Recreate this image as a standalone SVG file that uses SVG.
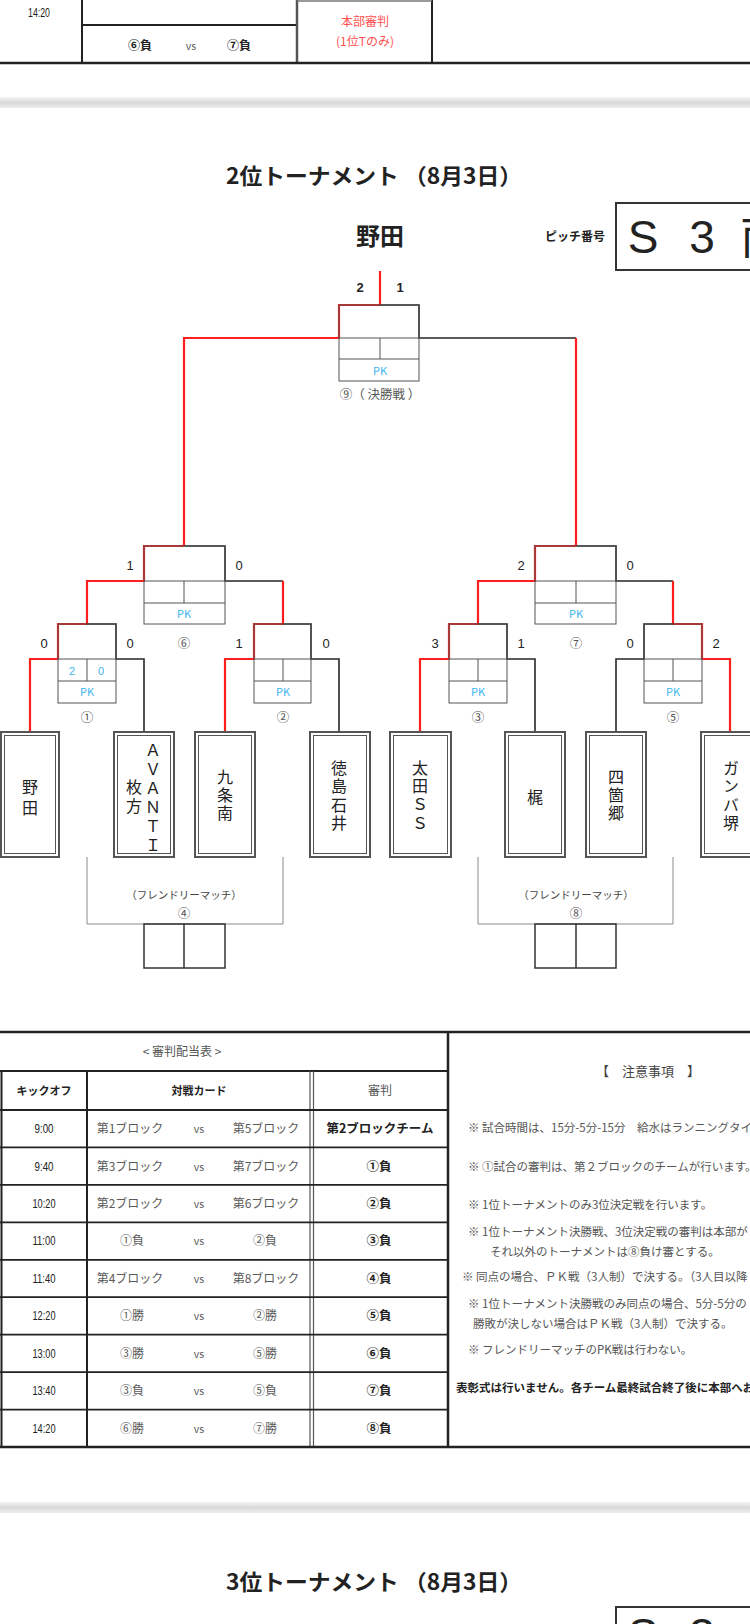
<svg xmlns="http://www.w3.org/2000/svg" width="750" height="1624" viewBox="0 0 750 1624">
<style>
text{font-family:"Noto Sans CJK JP","Noto Sans",sans-serif;fill:#222}
.num{font-family:"Liberation Sans","Noto Sans CJK JP",sans-serif}
.bk{fill:none;stroke:#262626;stroke-width:1.6}
.rd{fill:none;stroke:#ff1e1e;stroke-width:2.2}
.bx{fill:none;stroke:#555;stroke-width:1}
.fr{fill:none;stroke:#8a8a8a;stroke-width:1}
.pk{fill:#3ab4ee;font-size:11px;text-anchor:middle}
.sc{font-size:13px;text-anchor:middle;fill:#222}
.cn{font-size:12.5px;text-anchor:middle;fill:#555}
.tm{font-size:16px;fill:#222;writing-mode:vertical-rl;text-orientation:upright}
.to{fill:#fff;stroke:#555;stroke-width:2}
.ti{fill:none;stroke:#555;stroke-width:1}
.tl{stroke:#222;stroke-width:2}
.rl{stroke:#222;stroke-width:1.8}
.dl{stroke:#555;stroke-width:1.2}
.time{font-size:12.5px;text-anchor:middle;fill:#222}
.card{font-size:12px;text-anchor:middle;fill:#5a5a5a}
.vs{font-size:10.5px;text-anchor:middle;fill:#5a5a5a}
.ref{font-size:12.5px;text-anchor:middle;font-weight:700;fill:#222}
.note{font-size:11.5px;fill:#555}
</style>
<defs>
<linearGradient id="band" x1="0" y1="0" x2="0" y2="1">
<stop offset="0" stop-color="#f3f3f3"/>
<stop offset="0.5" stop-color="#d9d9d9"/>
<stop offset="1" stop-color="#ededed"/>
</linearGradient>
</defs>
<rect x="0" y="0" width="750" height="1624" fill="#fff"/>

<g id="prev-table">
<line x1="82" y1="0" x2="82" y2="63" class="tl"/>
<line x1="82" y1="25" x2="297" y2="25" class="rl"/>
<line x1="297" y1="0" x2="297" y2="63" stroke="#555" stroke-width="2.5"/>
<line x1="432" y1="0" x2="432" y2="63" class="tl"/>
<line x1="297" y1="1" x2="432" y2="1" stroke="#777" stroke-width="1.5"/>
<line x1="0" y1="63" x2="750" y2="63" stroke="#222" stroke-width="2.5"/>
<text x="39" y="17" class="time num" textLength="22" lengthAdjust="spacingAndGlyphs">14:20</text>
<text x="140" y="50" font-size="12" font-weight="700" text-anchor="middle">⑥負</text>
<text x="191" y="50" class="vs">vs</text>
<text x="239" y="50" font-size="12" font-weight="700" text-anchor="middle">⑦負</text>
<text x="365" y="26" font-size="12" text-anchor="middle" style="fill:#ff4f4f">本部審判</text>
<text x="365" y="46" font-size="12" text-anchor="middle" style="fill:#ff4f4f">(1位Tのみ)</text>
</g>

<rect x="0" y="97" width="750" height="11" fill="url(#band)"/>

<g id="header">
<text x="374" y="184" font-size="22" font-weight="700" text-anchor="middle" textLength="296" lengthAdjust="spacingAndGlyphs">2位トーナメント （8月3日）</text>
<text x="380" y="245" font-size="24" font-weight="700" text-anchor="middle">野田</text>
<text x="575" y="241" font-size="12" font-weight="700" text-anchor="middle">ピッチ番号</text>
<rect x="616" y="203" width="150" height="67" fill="none" stroke="#333" stroke-width="2"/>
<text x="643" y="253" font-size="46" text-anchor="middle" class="num">S</text>
<text x="702" y="253" font-size="46" text-anchor="middle" class="num">3</text>
<text x="763" y="253" font-size="46" text-anchor="middle">南</text>
</g>

<g id="connectors">
<path class="rd" d="M380,271 V305 H339 V338 H184 V546"/>
<path class="bk" d="M380,305 H419 V338 H576"/>
<path class="rd" d="M576,338 V546"/>
<path class="rd" d="M184,546 H144 V581 H87 V624 H58 V659 H30 V732"/>
<path class="bk" d="M184,546 H225 V581 H283"/>
<path class="rd" d="M283,581 V624 H254 V659 H225 V732"/>
<path class="bk" d="M87,624 H116 V659 H144 V732"/>
<path class="bk" d="M283,624 H311 V659 H339 V732"/>
<path class="rd" d="M576,546 H535 V581 H478 V624 H449 V659 H420 V732"/>
<path class="bk" d="M576,546 H616 V581 H673"/>
<path class="rd" d="M673,581 V624 H702 V659 H730 V732"/>
<path class="bk" d="M478,624 H507 V659 H535 V732"/>
<path class="bk" d="M673,624 H644 V659 H616 V732"/>
<path class="fr" d="M87,857 V924 H283 V857"/>
<path class="fr" d="M478,857 V924 H673 V857"/>
</g>

<g id="m9">
<rect x="339" y="305" width="80" height="76" class="bx"/>
<path class="bx" d="M339,338 H419 M339,359 H419 M380,338 V359"/>
<text x="380" y="375" class="pk">PK</text>
<text x="360" y="292" class="sc num" font-weight="700">2</text>
<text x="400" y="292" class="sc num" font-weight="700">1</text>
<text x="380" y="399" class="cn">⑨（ 決勝戦 ）</text>
</g>

<g id="m6">
<rect x="144" y="546" width="81" height="78" class="bx"/>
<path class="bx" d="M144,581 H225 M144,603 H225 M184,581 V603"/>
<text x="184" y="618" class="pk">PK</text>
<text x="130" y="570" class="sc num">1</text>
<text x="239" y="570" class="sc num">0</text>
<text x="184" y="648" class="cn">⑥</text>
</g>

<g id="m7">
<rect x="535" y="546" width="81" height="78" class="bx"/>
<path class="bx" d="M535,581 H616 M535,603 H616 M576,581 V603"/>
<text x="576" y="618" class="pk">PK</text>
<text x="521" y="570" class="sc num">2</text>
<text x="630" y="570" class="sc num">0</text>
<text x="576" y="648" class="cn">⑦</text>
</g>

<g id="m1">
<rect x="58" y="624" width="58" height="79" class="bx"/>
<path class="bx" d="M58,659 H116 M58,681 H116 M87,659 V681"/>
<text x="72" y="675" class="pk num" font-size="12">2</text>
<text x="101" y="675" class="pk num" font-size="12">0</text>
<text x="87" y="696" class="pk">PK</text>
<text x="44" y="648" class="sc num">0</text>
<text x="130" y="648" class="sc num">0</text>
<text x="87" y="722" class="cn">①</text>
</g>

<g id="m2">
<rect x="254" y="624" width="57" height="79" class="bx"/>
<path class="bx" d="M254,659 H311 M254,681 H311 M283,659 V681"/>
<text x="283" y="696" class="pk">PK</text>
<text x="239" y="648" class="sc num">1</text>
<text x="326" y="648" class="sc num">0</text>
<text x="283" y="722" class="cn">②</text>
</g>

<g id="m3">
<rect x="449" y="624" width="58" height="79" class="bx"/>
<path class="bx" d="M449,659 H507 M449,681 H507 M478,659 V681"/>
<text x="478" y="696" class="pk">PK</text>
<text x="435" y="648" class="sc num">3</text>
<text x="521" y="648" class="sc num">1</text>
<text x="478" y="722" class="cn">③</text>
</g>

<g id="m5">
<rect x="644" y="624" width="58" height="79" class="bx"/>
<path class="bx" d="M644,659 H702 M644,681 H702 M673,659 V681"/>
<text x="673" y="696" class="pk">PK</text>
<text x="630" y="648" class="sc num">0</text>
<text x="716" y="648" class="sc num">2</text>
<text x="673" y="722" class="cn">⑤</text>
</g>

<g id="m4">
<text x="184" y="899" font-size="10.5" text-anchor="middle" style="fill:#444">（フレンドリーマッチ）</text>
<text x="184" y="918" class="cn">④</text>
<rect x="144" y="924" width="81" height="44" fill="none" stroke="#333" stroke-width="1.5"/>
<line x1="184" y1="924" x2="184" y2="968" stroke="#333" stroke-width="1.5"/>
</g>

<g id="m8">
<text x="576" y="899" font-size="10.5" text-anchor="middle" style="fill:#444">（フレンドリーマッチ）</text>
<text x="576" y="918" class="cn">⑧</text>
<rect x="535" y="924" width="81" height="44" fill="none" stroke="#333" stroke-width="1.5"/>
<line x1="576" y1="924" x2="576" y2="968" stroke="#333" stroke-width="1.5"/>
</g>

<g id="team-noda">
<rect x="1" y="732" width="58" height="125" class="to"/>
<rect x="4.5" y="735.5" width="51" height="118" class="ti"/>
<text class="tm" x="30" y="779" letter-spacing="5">野田</text>
</g>
<g id="team-avanti">
<rect x="114" y="732" width="60" height="125" class="to"/>
<rect x="117.5" y="735.5" width="53" height="118" class="ti"/>
<text class="tm" x="153" y="742.5" font-size="15" letter-spacing="3">ＡＶＡＮＴＩ</text>
<text class="tm" x="134" y="779" letter-spacing="3">枚方</text>
</g>
<g id="team-kujominami">
<rect x="195" y="732" width="60" height="125" class="to"/>
<rect x="198.5" y="735.5" width="53" height="118" class="ti"/>
<text class="tm" x="225" y="769" letter-spacing="2">九条南</text>
</g>
<g id="team-tokushima">
<rect x="310" y="732" width="60" height="125" class="to"/>
<rect x="313.5" y="735.5" width="53" height="118" class="ti"/>
<text class="tm" x="339" y="760" letter-spacing="2.3">徳島石井</text>
</g>
<g id="team-ota">
<rect x="390" y="732" width="61" height="125" class="to"/>
<rect x="393.5" y="735.5" width="54" height="118" class="ti"/>
<text class="tm" x="420" y="760" letter-spacing="2.3">太田ＳＳ</text>
</g>
<g id="team-kaji">
<rect x="505" y="732" width="60" height="125" class="to"/>
<rect x="508.5" y="735.5" width="53" height="118" class="ti"/>
<text class="tm" x="535" y="789">梶</text>
</g>
<g id="team-shikago">
<rect x="586" y="732" width="60" height="125" class="to"/>
<rect x="589.5" y="735.5" width="53" height="118" class="ti"/>
<text class="tm" x="616" y="769" letter-spacing="2">四箇郷</text>
</g>
<g id="team-gamba">
<rect x="701" y="732" width="60" height="125" class="to"/>
<rect x="704.5" y="735.5" width="53" height="118" class="ti"/>
<text class="tm" x="731" y="760" letter-spacing="2.3">ガンバ堺</text>
</g>

<g id="ref-table">
<line x1="0" y1="1032" x2="750" y2="1032" stroke="#222" stroke-width="2.5"/>
<line x1="0" y1="1071" x2="448" y2="1071" class="tl"/>
<line x1="1.5" y1="1071" x2="1.5" y2="1447" class="tl"/>
<line x1="87" y1="1071" x2="87" y2="1447" class="tl"/>
<line x1="310" y1="1071" x2="310" y2="1447" class="dl"/>
<line x1="313.5" y1="1071" x2="313.5" y2="1447" class="dl"/>
<line x1="448" y1="1032" x2="448" y2="1447" stroke="#222" stroke-width="2.5"/>
<path stroke="#222" stroke-width="1.8" fill="none" d="M0,1110 H448 M0,1147.4 H448 M0,1184.9 H448 M0,1222.3 H448 M0,1259.8 H448 M0,1297.2 H448 M0,1334.7 H448 M0,1372.1 H448 M0,1409.6 H448"/>
<line x1="0" y1="1447" x2="750" y2="1447" stroke="#222" stroke-width="2.5"/>
<text x="182" y="1056" font-size="12" text-anchor="middle" style="fill:#555">&lt; 審判配当表 &gt;</text>
<text x="44" y="1095" font-size="11" font-weight="700" text-anchor="middle">キックオフ</text>
<text x="199" y="1095" font-size="11" font-weight="700" text-anchor="middle">対戦カード</text>
<text x="380" y="1095" font-size="12" text-anchor="middle" style="fill:#555">審判</text>

<text x="44" y="1133" class="time num" textLength="19" lengthAdjust="spacingAndGlyphs">9:00</text>
<text x="130" y="1133" class="card">第1ブロック</text><text x="199" y="1133" class="vs">vs</text><text x="266" y="1133" class="card">第5ブロック</text>
<text x="380" y="1133" class="ref" font-size="12">第2ブロックチーム</text>

<text x="44" y="1170.5" class="time num" textLength="19" lengthAdjust="spacingAndGlyphs">9:40</text>
<text x="130" y="1170.5" class="card">第3ブロック</text><text x="199" y="1170.5" class="vs">vs</text><text x="266" y="1170.5" class="card">第7ブロック</text>
<text x="379" y="1170.5" class="ref">①負</text>

<text x="44" y="1208" class="time num" textLength="23" lengthAdjust="spacingAndGlyphs">10:20</text>
<text x="130" y="1208" class="card">第2ブロック</text><text x="199" y="1208" class="vs">vs</text><text x="266" y="1208" class="card">第6ブロック</text>
<text x="379" y="1208" class="ref">②負</text>

<text x="44" y="1245.3" class="time num" textLength="23" lengthAdjust="spacingAndGlyphs">11:00</text>
<text x="132" y="1245.3" class="card">①負</text><text x="199" y="1245.3" class="vs">vs</text><text x="265" y="1245.3" class="card">②負</text>
<text x="379" y="1245.3" class="ref">③負</text>

<text x="44" y="1283" class="time num" textLength="23" lengthAdjust="spacingAndGlyphs">11:40</text>
<text x="130" y="1283" class="card">第4ブロック</text><text x="199" y="1283" class="vs">vs</text><text x="266" y="1283" class="card">第8ブロック</text>
<text x="379" y="1283" class="ref">④負</text>

<text x="44" y="1320" class="time num" textLength="23" lengthAdjust="spacingAndGlyphs">12:20</text>
<text x="132" y="1320" class="card">①勝</text><text x="199" y="1320" class="vs">vs</text><text x="265" y="1320" class="card">②勝</text>
<text x="379" y="1320" class="ref">⑤負</text>

<text x="44" y="1357.7" class="time num" textLength="23" lengthAdjust="spacingAndGlyphs">13:00</text>
<text x="132" y="1357.7" class="card">③勝</text><text x="199" y="1357.7" class="vs">vs</text><text x="265" y="1357.7" class="card">⑤勝</text>
<text x="379" y="1357.7" class="ref">⑥負</text>

<text x="44" y="1395" class="time num" textLength="23" lengthAdjust="spacingAndGlyphs">13:40</text>
<text x="132" y="1395" class="card">③負</text><text x="199" y="1395" class="vs">vs</text><text x="265" y="1395" class="card">⑤負</text>
<text x="379" y="1395" class="ref">⑦負</text>

<text x="44" y="1432.6" class="time num" textLength="23" lengthAdjust="spacingAndGlyphs">14:20</text>
<text x="132" y="1432.6" class="card">⑥勝</text><text x="199" y="1432.6" class="vs">vs</text><text x="265" y="1432.6" class="card">⑦勝</text>
<text x="379" y="1432.6" class="ref">⑧負</text>
</g>

<g id="notes">
<text x="648" y="1075.5" font-size="13" text-anchor="middle" style="fill:#444">【　注意事項　】</text>
<text x="468" y="1132" class="note">※ 試合時間は、15分-5分-15分　給水はランニングタイ</text>
<text x="468" y="1171" class="note">※ ①試合の審判は、第２ブロックのチームが行います。</text>
<text x="468" y="1209" class="note">※ 1位トーナメントのみ3位決定戦を行います。</text>
<text x="468" y="1236" class="note">※ 1位トーナメント決勝戦、3位決定戦の審判は本部が</text>
<text x="490" y="1256" class="note">それ以外のトーナメントは⑧負け審とする。</text>
<text x="462" y="1281" class="note">※ 同点の場合、ＰＫ戦（3人制）で決する。（3人目以降</text>
<text x="468" y="1308" class="note">※ 1位トーナメント決勝戦のみ同点の場合、5分-5分の</text>
<text x="473" y="1328" class="note">勝敗が決しない場合はＰＫ戦（3人制）で決する。</text>
<text x="468" y="1354" class="note">※ フレンドリーマッチのPK戦は行わない。</text>
<text x="456" y="1392" font-size="11.5" font-weight="700">表彰式は行いません。各チーム最終試合終了後に本部へお</text>
</g>

<rect x="0" y="1502" width="750" height="11" fill="url(#band)"/>

<g id="next-header">
<text x="374" y="1590" font-size="22" font-weight="700" text-anchor="middle" textLength="296" lengthAdjust="spacingAndGlyphs">3位トーナメント （8月3日）</text>
<rect x="616" y="1607" width="150" height="67" fill="none" stroke="#333" stroke-width="2"/>
<text x="643" y="1651" font-size="46" text-anchor="middle" class="num">S</text>
<text x="702" y="1651" font-size="46" text-anchor="middle" class="num">3</text>
</g>
</svg>
